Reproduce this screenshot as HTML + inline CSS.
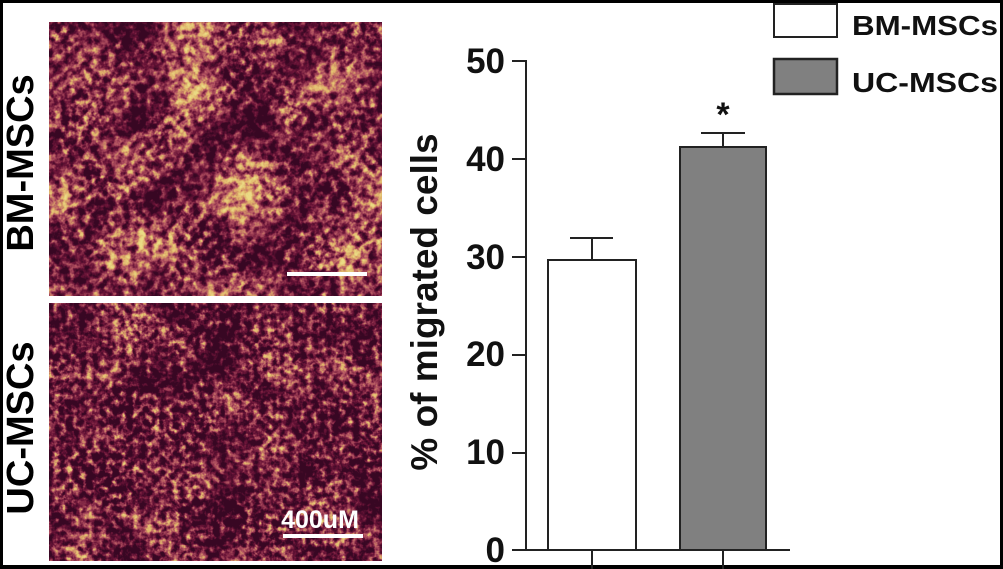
<!DOCTYPE html>
<html><head><meta charset="utf-8"><style>
html,body{margin:0;padding:0;background:#000;}
.wrap{position:relative;width:1003px;height:569px;overflow:hidden;background:#000;}
.inner{position:absolute;left:3px;top:3px;width:997px;height:562px;background:#fff;}
svg{position:absolute;left:0;top:0;}
text{font-family:"Liberation Sans",Arial,sans-serif;font-weight:bold;}
</style></head><body><div class="wrap"><div class="inner"></div>
<svg width="1003" height="569" viewBox="0 0 1003 569">
<defs>
<filter id="tex1" x="0" y="0" width="100%" height="100%" color-interpolation-filters="sRGB">
<feTurbulence type="fractalNoise" baseFrequency="0.018" numOctaves="2" seed="4" result="low"/>
<feTurbulence type="fractalNoise" baseFrequency="0.13" numOctaves="3" seed="9" result="high"/>
<feComposite in="low" in2="high" operator="arithmetic" k2="0.45" k3="0.65" result="mix"/>
<feColorMatrix in="mix" type="matrix" values="1 0 0 0 0  1 0 0 0 0  1 0 0 0 0  0 0 0 0 1" result="g"/>
<feComponentTransfer in="g">
<feFuncR type="linear" slope="2.6" intercept="-0.98"/>
<feFuncG type="linear" slope="2.6" intercept="-0.98"/>
<feFuncB type="linear" slope="2.6" intercept="-0.98"/>
</feComponentTransfer>
<feComponentTransfer>
<feFuncR type="table" tableValues="0.22 0.42 0.7 0.88 0.92"/>
<feFuncG type="table" tableValues="0.03 0.08 0.32 0.7 0.86"/>
<feFuncB type="table" tableValues="0.14 0.22 0.38 0.42 0.52"/>
<feFuncA type="table" tableValues="1 1"/>
</feComponentTransfer>
</filter>
<filter id="tex2" x="0" y="0" width="100%" height="100%" color-interpolation-filters="sRGB">
<feTurbulence type="fractalNoise" baseFrequency="0.02" numOctaves="2" seed="21" result="low"/>
<feTurbulence type="fractalNoise" baseFrequency="0.15" numOctaves="3" seed="33" result="high"/>
<feComposite in="low" in2="high" operator="arithmetic" k2="0.4" k3="0.7" result="mix"/>
<feColorMatrix in="mix" type="matrix" values="1 0 0 0 0  1 0 0 0 0  1 0 0 0 0  0 0 0 0 1" result="g"/>
<feComponentTransfer in="g">
<feFuncR type="linear" slope="2.6" intercept="-1.08"/>
<feFuncG type="linear" slope="2.6" intercept="-1.08"/>
<feFuncB type="linear" slope="2.6" intercept="-1.08"/>
</feComponentTransfer>
<feComponentTransfer>
<feFuncR type="table" tableValues="0.22 0.42 0.7 0.88 0.92"/>
<feFuncG type="table" tableValues="0.03 0.08 0.32 0.7 0.86"/>
<feFuncB type="table" tableValues="0.14 0.22 0.38 0.42 0.52"/>
<feFuncA type="table" tableValues="1 1"/>
</feComponentTransfer>
</filter>
</defs>
<rect x="49" y="22" width="333" height="274" fill="#5a1a38" filter="url(#tex1)"/>
<rect x="49" y="303" width="333" height="258" fill="#5a1a38" filter="url(#tex2)"/>
<rect x="287" y="272" width="80" height="4" fill="#fff"/>
<text x="320" y="528" font-size="25" fill="#fff" text-anchor="middle">400uM</text>
<rect x="283" y="534" width="80" height="4" fill="#fff"/>
<text transform="translate(33,163) rotate(-90)" font-size="38" text-anchor="middle" fill="#000">BM-MSCs</text>
<text transform="translate(33,428) rotate(-90)" font-size="38" text-anchor="middle" fill="#000">UC-MSCs</text>
<text transform="translate(437,302) rotate(-90)" font-size="37" text-anchor="middle" fill="#111">% of migrated cells</text>
<g font-size="35" fill="#111" text-anchor="end">
<text x="505" y="73">50</text>
<text x="505" y="171">40</text>
<text x="505" y="269">30</text>
<text x="505" y="366">20</text>
<text x="505" y="464">10</text>
<text x="505" y="562">0</text>
</g>
<g stroke="#222" stroke-width="2" fill="none">
<line x1="526" y1="60" x2="526" y2="550"/>
<line x1="512" y1="61" x2="526" y2="61"/>
<line x1="512" y1="159" x2="526" y2="159"/>
<line x1="512" y1="257" x2="526" y2="257"/>
<line x1="512" y1="355" x2="526" y2="355"/>
<line x1="512" y1="453" x2="526" y2="453"/>
<line x1="512" y1="550" x2="790" y2="550"/>
<line x1="592" y1="550" x2="592" y2="569"/>
<line x1="723" y1="550" x2="723" y2="569"/>
<line x1="592" y1="260" x2="592" y2="238"/>
<line x1="570" y1="238" x2="613" y2="238"/>
<line x1="723" y1="147" x2="723" y2="133"/>
<line x1="701" y1="133" x2="745" y2="133"/>
</g>
<rect x="548" y="260" width="88" height="290" fill="#fff" stroke="#222" stroke-width="2"/>
<rect x="680" y="147" width="86" height="403" fill="#808080" stroke="#222" stroke-width="2"/>
<text x="723" y="126" font-size="34" text-anchor="middle" fill="#111">*</text>
<rect x="774" y="4" width="63" height="33" fill="#fff" stroke="#222" stroke-width="2"/>
<rect x="774" y="59" width="63" height="35" fill="#808080" stroke="#222" stroke-width="2.5"/>
<text x="852" y="35" font-size="28" fill="#111" textLength="146" lengthAdjust="spacingAndGlyphs">BM-MSCs</text>
<text x="852" y="92" font-size="28" fill="#111" textLength="146" lengthAdjust="spacingAndGlyphs">UC-MSCs</text>
</svg></div></body></html>
